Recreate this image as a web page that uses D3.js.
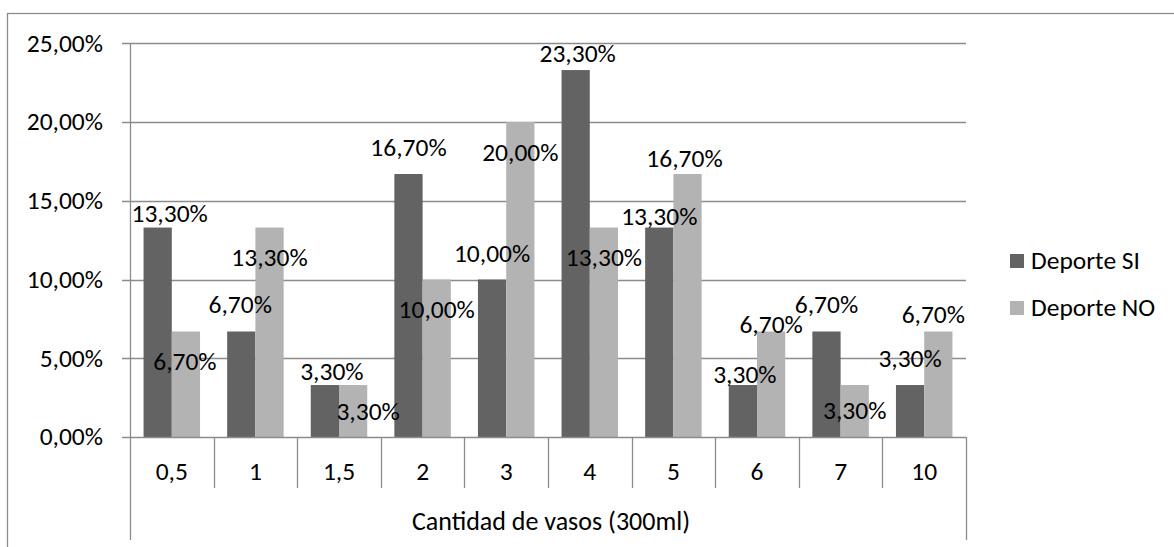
<!DOCTYPE html>
<html>
<head>
<meta charset="utf-8">
<script src="https://cdn.jsdelivr.net/npm/d3@7"></script>
<style>
  html, body { margin: 0; padding: 0; background: #fff; }
  svg { display: block; }
  text { font-family: Carlito, Calibri, Lato, sans-serif; fill: #000; }
</style>
</head>
<body>
<svg id="chart" width="1174" height="547"></svg>
<script>
// ---- data ----
const categories = ["0,5", "1", "1,5", "2", "3", "4", "5", "6", "7", "10"];
const seriesNames = ["Deporte SI", "Deporte NO"];
const deporteSI = [13.3, 6.7, 3.3, 16.7, 10.0, 23.3, 13.3, 3.3, 6.7, 3.3];
const deporteNO = [6.7, 13.3, 3.3, 10.0, 20.0, 13.3, 16.7, 6.7, 3.3, 6.7];
const yTicks = [0, 5, 10, 15, 20, 25];
const xTitle = "Cantidad de vasos (300ml)";

// label nudges (px) relative to the bar top / bar centre, as placed in the original
const labelDySI = [-5.6, -18.5, -5, -18, -17.5, -7.8, -2.6, -2, -18.2, -17.7];
const labelDxSI = [0, -1, 7, 0, 0, 2, 0, 2, 0, 0];
const labelDyNO = [38.5, 38.4, 35, 38.5, 38.6, 38.4, -6.7, 1.5, 34.3, -8.8];
const labelDxNO = [-1, 0, 15, 0, 0, 0, -3, 0, 0, 0];

// ---- layout ----
const colors = ["#636363", "#b3b3b3"];
const gridColor = "#8c8c8c";
const fontSize = 25.5;
const plot = { left: 130, right: 966, top: 43.3, bottom: 437 };

const svg = d3.select("#chart");

// outer border
svg.append("rect")
  .attr("x", 7.5).attr("y", 13.5)
  .attr("width", 1180).attr("height", 560)
  .attr("fill", "none").attr("stroke", gridColor).attr("stroke-width", 1.3);

const x = d3.scaleBand().domain(categories).range([plot.left, plot.right]).padding(0);
const xs = d3.scaleBand().domain(seriesNames).range([0, x.bandwidth()]).paddingInner(0).paddingOuter(0.48);
const y = d3.scaleLinear().domain([0, 25]).range([plot.bottom, plot.top]);

const fmt = v => v.toFixed(2).replace(".", ",") + "%";

// gridlines
svg.append("g").selectAll("line").data(yTicks.filter(t => t > 0)).join("line")
  .attr("x1", plot.left - 8).attr("x2", plot.right)
  .attr("y1", d => Math.round(y(d)) + 0.5).attr("y2", d => Math.round(y(d)) + 0.5)
  .attr("stroke", gridColor).attr("stroke-width", 1.3);

// bars
const series = [deporteSI, deporteNO];
const barData = [];
series.forEach((vals, si) => vals.forEach((v, ci) => barData.push({ si, ci, v })));

svg.append("g").selectAll("rect").data(barData).join("rect")
  .attr("x", d => x(categories[d.ci]) + xs(seriesNames[d.si]))
  .attr("width", xs.bandwidth())
  .attr("y", d => y(d.v))
  .attr("height", d => y(0) - y(d.v))
  .attr("fill", d => colors[d.si]);

// y axis line + ticks
svg.append("line")
  .attr("x1", plot.left + 0.5).attr("x2", plot.left + 0.5)
  .attr("y1", plot.top).attr("y2", 540)
  .attr("stroke", gridColor).attr("stroke-width", 1.3);
svg.append("line")
  .attr("x1", plot.right + 0.5).attr("x2", plot.right + 0.5)
  .attr("y1", plot.bottom).attr("y2", 540)
  .attr("stroke", gridColor).attr("stroke-width", 1.3);
// x axis line
svg.append("line")
  .attr("x1", plot.left - 8).attr("x2", plot.right)
  .attr("y1", Math.round(y(0)) + 0.5).attr("y2", Math.round(y(0)) + 0.5)
  .attr("stroke", gridColor).attr("stroke-width", 1.3);

// category separators
svg.append("g").selectAll("line").data(categories.slice(1)).join("line")
  .attr("x1", d => Math.round(x(d)) + 0.5).attr("x2", d => Math.round(x(d)) + 0.5)
  .attr("y1", plot.bottom).attr("y2", 488)
  .attr("stroke", gridColor).attr("stroke-width", 1.3);

// y tick labels
svg.append("g").selectAll("text").data(yTicks).join("text")
  .attr("x", 103).attr("y", d => y(d))
  .attr("dy", "0.33em")
  .attr("text-anchor", "end")
  .style("font-size", fontSize + "px")
  .text(d => fmt(d));

// x tick labels
svg.append("g").selectAll("text").data(categories).join("text")
  .attr("x", d => x(d) + x.bandwidth() / 2).attr("y", 480)
  .attr("text-anchor", "middle")
  .style("font-size", fontSize + "px")
  .text(d => d);

// axis title
svg.append("text")
  .attr("x", (plot.left + plot.right) / 2 + 3).attr("y", 530)
  .attr("text-anchor", "middle")
  .style("font-size", "26px")
  .text(xTitle);

// data labels
const dys = [labelDySI, labelDyNO];
const dxs = [labelDxSI, labelDxNO];
const lbl = svg.append("g").selectAll("text").data(barData).join("text")
  .attr("text-anchor", "middle")
  .style("font-size", fontSize + "px")
  .attr("y", d => y(d.v) + dys[d.si][d.ci])
  .attr("x", d => x(categories[d.ci]) + xs(seriesNames[d.si]) + xs.bandwidth() / 2 + dxs[d.si][d.ci])
  .text(d => fmt(d.v));
// keep labels inside the plot area horizontally
lbl.each(function () {
  const t = d3.select(this);
  const w = this.getComputedTextLength();
  let cx = +t.attr("x");
  cx = Math.max(cx, plot.left + 1.5 + w / 2);
  cx = Math.min(cx, plot.right - 1 - w / 2);
  t.attr("x", cx);
});

// legend
const leg = svg.append("g").selectAll("g").data(seriesNames).join("g")
  .attr("transform", (d, i) => `translate(1010, ${261 + i * 47})`);
leg.append("rect").attr("x", 0).attr("y", -7).attr("width", 14).attr("height", 14)
  .attr("fill", (d, i) => colors[i]);
leg.append("text").attr("x", 21).attr("y", 0).attr("dy", "0.33em")
  .style("font-size", fontSize + "px")
  .text(d => d);
</script>
</body>
</html>
